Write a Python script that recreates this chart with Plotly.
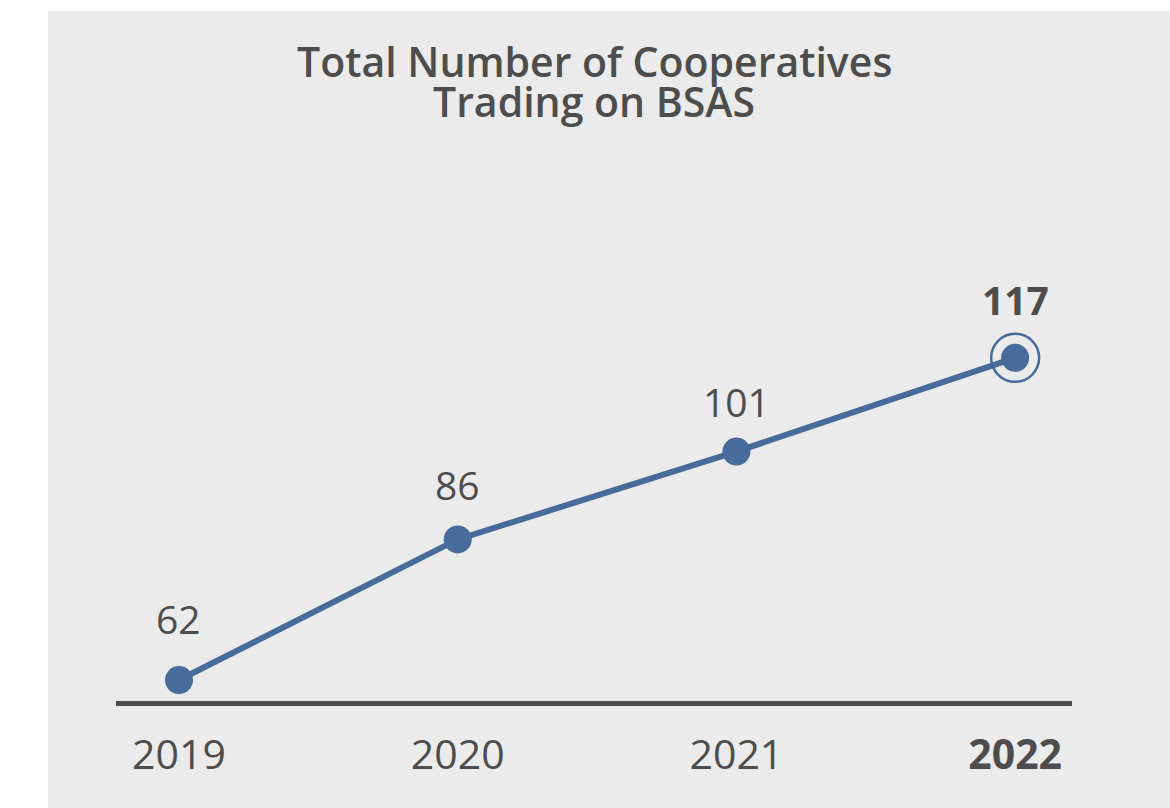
import plotly.graph_objects as go

years = ["2019", "2020", "2021", "2022"]
cooperatives = [62, 86, 101, 117]
tick_labels = ["2019", "2020", "2021", "<b>2022</b>"]
value_labels = ["62", "86", "101", "<b>117</b>"]
title_lines = ["Total Number of Cooperatives", "Trading on BSAS"]

W, H = 1170, 808
BLUE = "#476C9B"
DARK = "#4D4D4D"
FONT = "Open Sans"

fig = go.Figure()

fig.add_trace(go.Scatter(
    x=years, y=cooperatives, mode="lines+markers",
    line=dict(color=BLUE, width=6),
    marker=dict(size=28, color=BLUE),
    hoverinfo="skip", showlegend=False,
))
# highlight ring on the last point
fig.add_trace(go.Scatter(
    x=years[-1:], y=cooperatives[-1:], mode="markers",
    marker=dict(size=48, symbol="circle-open", color=BLUE, line=dict(width=2.5, color=BLUE)),
    hoverinfo="skip", showlegend=False,
))

offsets = [62, 55, 50, 58]
for i, (y, t, off) in enumerate(zip(cooperatives, value_labels, offsets)):
    fig.add_annotation(x=i, y=y, xref="x", yref="y", text=t, showarrow=False,
                       yshift=off, font=dict(family=FONT, size=39, color=DARK))

# two-line title with tight line spacing
for line, py in zip(title_lines, [61, 101]):
    fig.add_annotation(x=594 / W, y=1 - py / H, xref="paper", yref="paper",
                       xanchor="center", yanchor="middle", text=line, showarrow=False,
                       borderpad=0,
                       font=dict(family=FONT, size=41, color=DARK, weight=600))

fig.add_shape(type="rect", xref="paper", yref="paper",
              x0=48 / W, x1=1, y0=0, y1=1 - 11 / H,
              fillcolor="#EBEBEB", line=dict(width=0), layer="below")

fig.update_layout(
    width=W, height=H,
    margin=dict(l=0, r=0, t=0, b=0),
    paper_bgcolor="white", plot_bgcolor="rgba(0,0,0,0)",
    xaxis=dict(
        type="category", domain=[116 / W, 1072 / W],
        range=[-0.226, 3.204],
        tickmode="array", tickvals=years, ticktext=tick_labels,
        showline=True, linecolor=DARK, linewidth=5,
        showgrid=False, zeroline=False, ticks="",
        ticklabelstandoff=14,
        tickfont=dict(family=FONT, size=41, color=DARK),
    ),
    yaxis=dict(
        domain=[1 - 701 / H, 1 - 11 / H],
        range=[58.42, 176.2],
        visible=False, showgrid=False, zeroline=False,
    ),
)

fig.write_html("out.html")
